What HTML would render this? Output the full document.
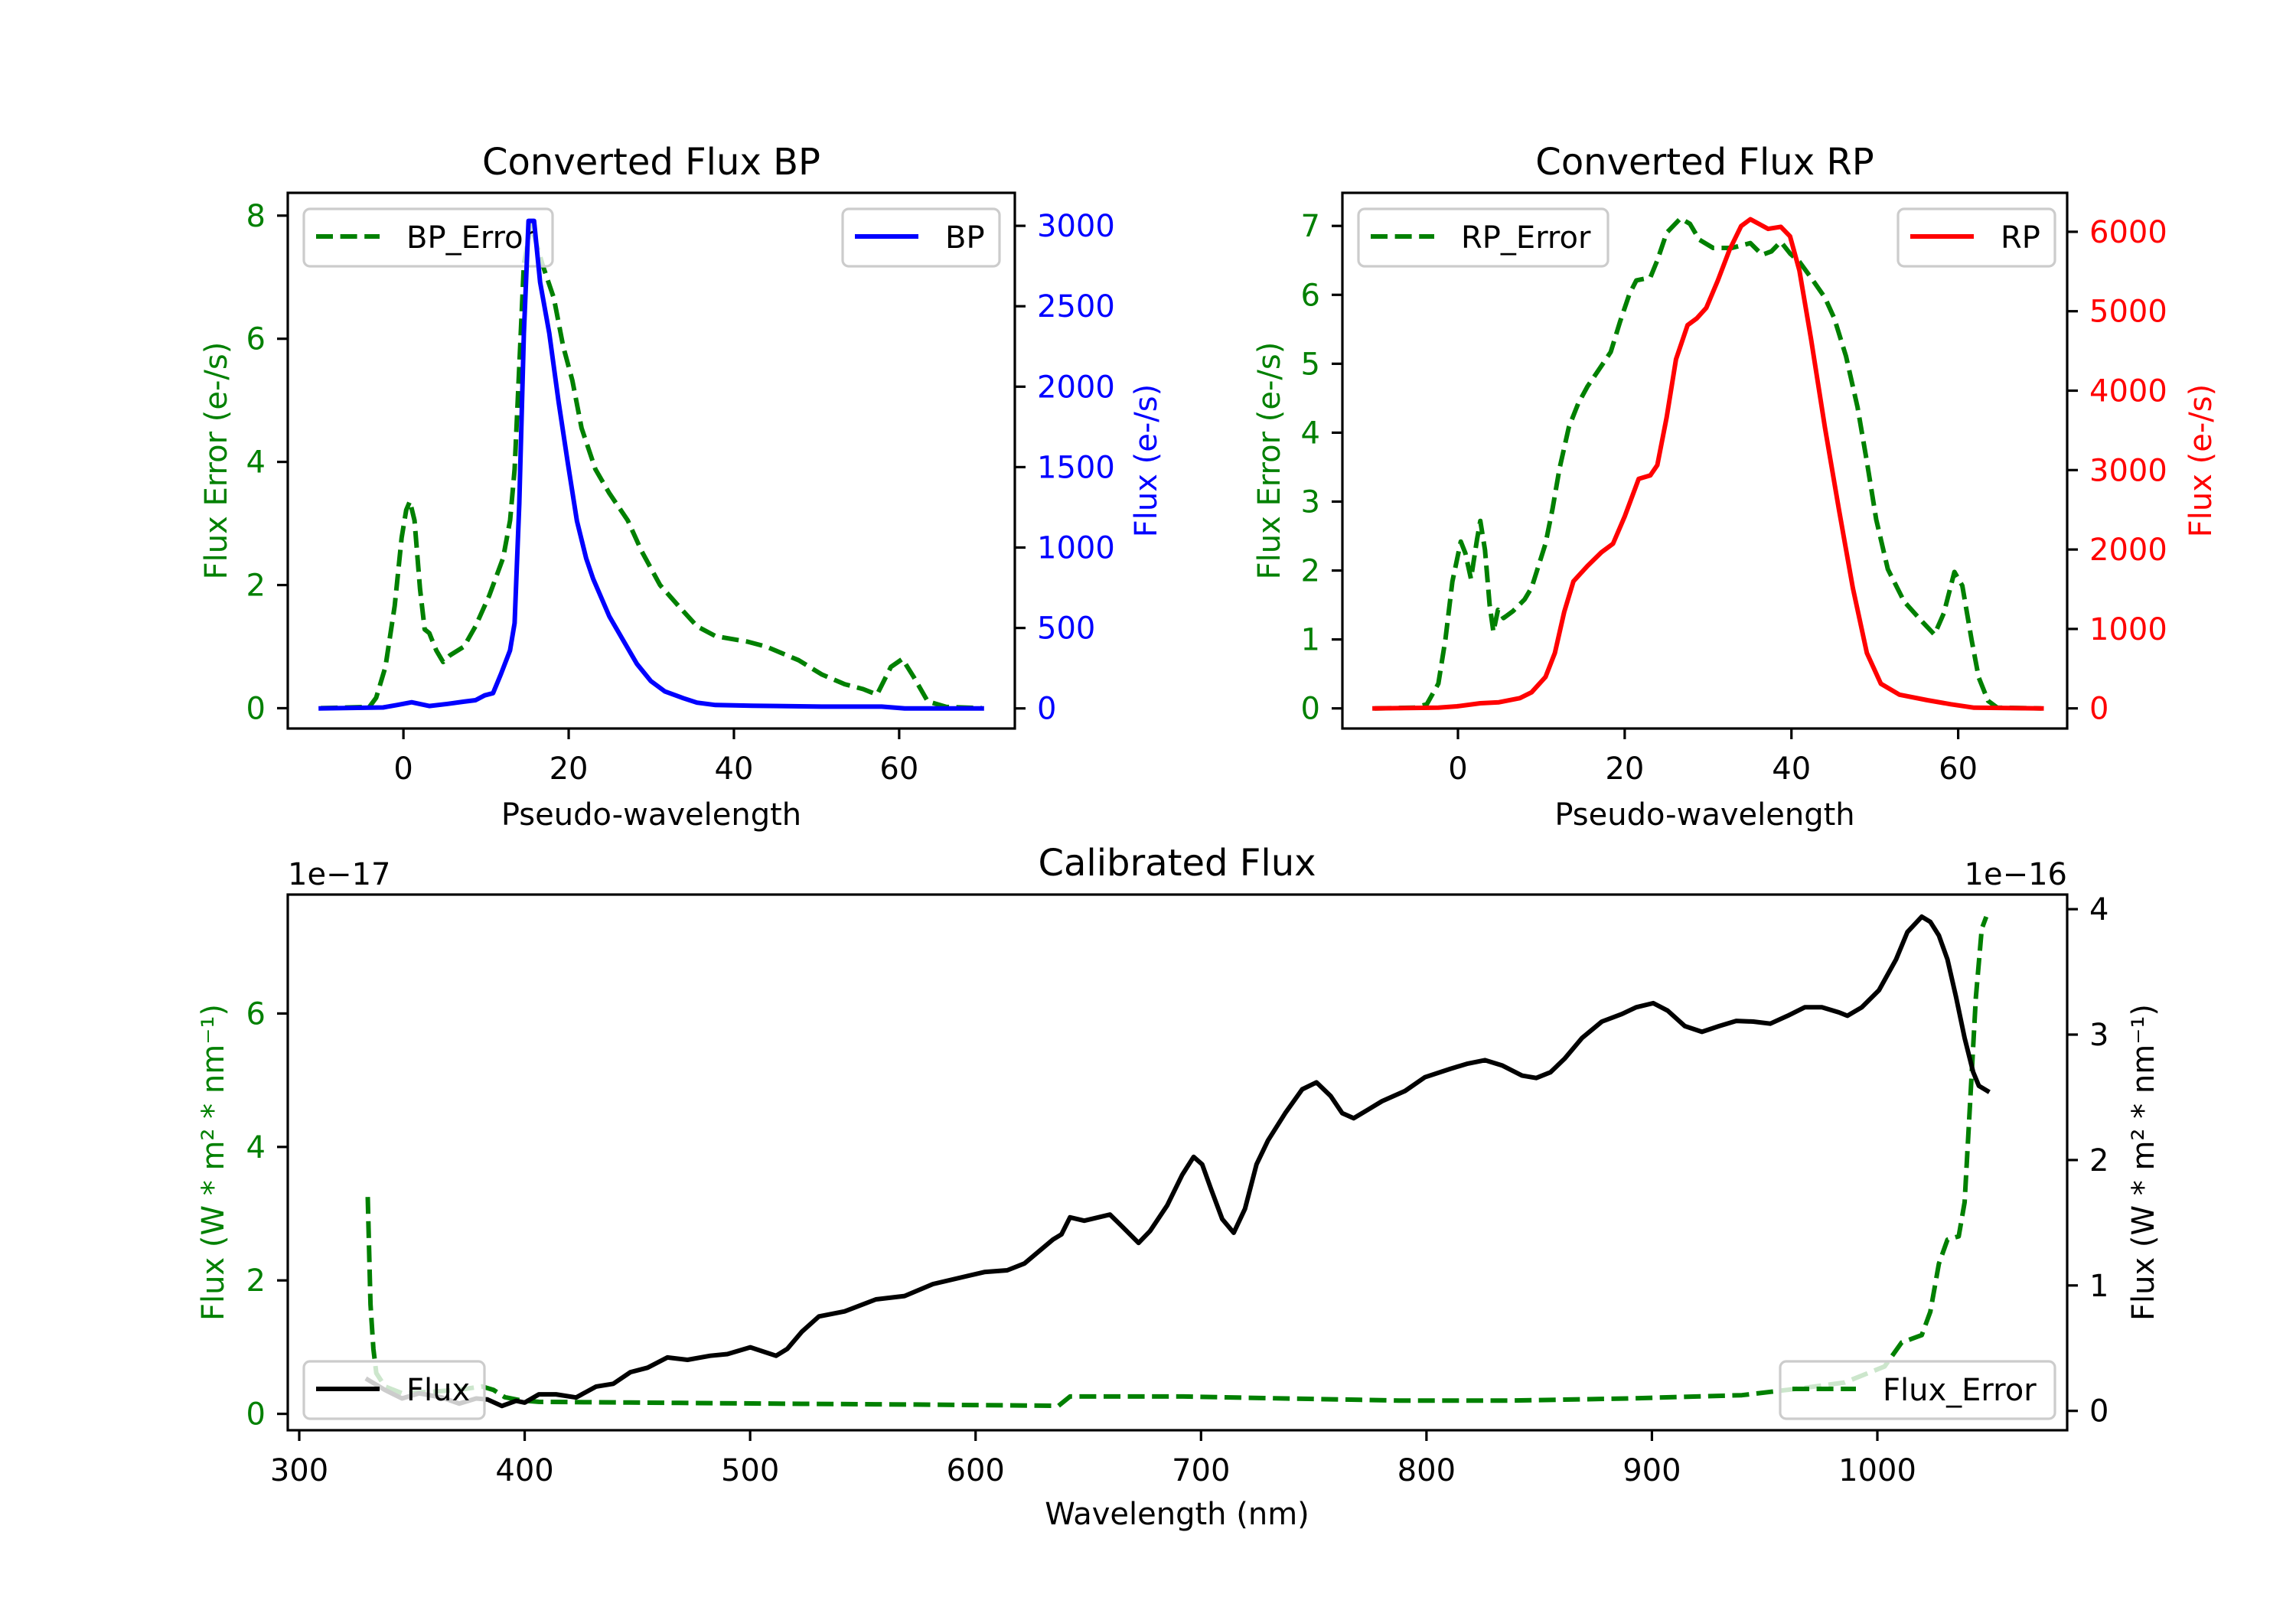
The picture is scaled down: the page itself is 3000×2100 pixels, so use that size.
<!DOCTYPE html>
<html><head><meta charset="utf-8"><style>
html,body{margin:0;padding:0;background:#fff}
svg{display:block}
text{font-family:"DejaVu Sans","Liberation Sans",sans-serif}
</style></head><body>
<svg id="fig" xmlns="http://www.w3.org/2000/svg" width="3000" height="2100" viewBox="0 0 3000 2100">
<rect x="0" y="0" width="3000" height="2100" fill="#fff"/>
</svg>
<script>
// ---- BP data ----
const bpX = [-10,-2.46,-0.78,1.0,3.13,5.36,7.32,8.72,9.83,10.84,11.79,12.9,13.46,14.02,14.58,15.14,15.81,16.54,17.65,18.77,19.89,21.0,22.12,22.96,24.92,26.59,28.27,29.94,31.62,33.85,35.53,37.77,42.23,50.6,57.88,60.67,70];
const bpFlux = [0,6,21,38,15,28,42,51,81,95,212,360,530,1272,2332,3031,3031,2650,2332,1908,1526,1166,933,806,572,424,276,170,106,64,36,21,17,11,11,0,0];
const bpErrX = [-10,-4.13,-3.30,-2.18,-1.06,-0.22,0.34,0.78,1.34,2.01,2.57,3.13,3.97,4.80,5.64,7.32,8.72,10.39,12.07,12.91,13.46,14.02,14.58,15.42,16.82,18.21,19.33,20.45,21.56,23.24,24.92,27.15,28.83,31.06,33.30,35.53,37.77,41.68,43.91,47.82,50.61,53.41,55.64,57.32,59.0,60.39,61.79,63.46,65.70,70];
const bpErr = [0,0.02,0.17,0.67,1.66,2.77,3.22,3.36,3.05,1.94,1.28,1.22,0.94,0.75,0.86,1.00,1.33,1.83,2.44,3.05,3.88,5.55,7.21,7.85,7.21,6.66,5.88,5.32,4.55,3.88,3.49,3.05,2.55,2.00,1.66,1.33,1.17,1.08,1.0,0.78,0.55,0.39,0.31,0.22,0.67,0.80,0.50,0.11,0.02,0];
// ---- RP data ----
const rpX = [-10,-2.35,-0.11,2.68,4.92,7.43,8.83,10.50,11.62,12.74,13.85,15.53,17.21,18.60,20.0,21.68,23.07,23.91,25.03,26.15,27.54,28.66,29.78,31.17,32.57,33.97,35.08,36.20,37.21,38.72,39.83,40.95,42.35,44.02,45.70,47.37,49.05,50.73,52.96,56.31,59.11,61.90,70];
const rpFlux = [0,9,26,65,77,129,202,396,697,1213,1600,1793,1965,2073,2417,2890,2933,3063,3665,4395,4825,4911,5041,5385,5772,6072,6158,6094,6037,6063,5943,5514,4653,3536,2503,1514,697,310,172,103,52,9,0];
const rpErrX = [-10,-5.14,-3.74,-2.35,-1.51,-0.67,0.34,0.89,1.56,2.29,2.68,3.24,3.80,4.25,4.80,5.47,6.59,7.99,8.83,10.50,11.34,12.18,13.30,14.41,15.53,17.21,18.32,19.44,20.56,21.40,23.07,23.91,25.03,26.70,27.82,28.94,30.61,32.85,35.08,36.48,37.60,38.72,39.83,40.95,42.35,44.02,45.14,46.54,47.93,49.05,50.17,51.56,53.52,55.75,57.15,58.27,59.55,60.50,61.62,62.46,63.58,64.69,70];
const rpErr = [0,0.01,0.06,0.36,1.00,1.84,2.42,2.25,1.88,2.45,2.72,2.30,1.50,1.11,1.43,1.31,1.41,1.58,1.75,2.39,2.89,3.48,4.08,4.42,4.67,4.97,5.17,5.61,6.01,6.21,6.25,6.50,6.90,7.11,7.03,6.80,6.68,6.68,6.75,6.58,6.63,6.77,6.60,6.48,6.25,5.96,5.66,5.11,4.37,3.58,2.74,2.02,1.55,1.25,1.07,1.38,1.98,1.78,0.99,0.45,0.11,0.01,0];
// ---- Calibrated data ----
const calWl = [330.4,338.0,345.6,353.2,363.3,370.9,378.5,383.5,389.9,396.2,400.0,406.3,413.9,422.8,431.7,439.3,446.9,454.5,463.3,472.2,482.3,489.9,500.1,511.5,516.5,522.9,530.5,541.9,555.8,568.5,581.1,603.9,614.0,621.7,634.3,638.1,641.9,648.2,659.6,664.7,672.3,677.4,685.0,691.7,696.7,700.5,704.3,709.4,714.5,719.5,724.6,729.7,737.3,744.9,751.2,757.5,762.6,767.7,774.0,780.3,790.5,799.3,810.7,818.3,825.9,833.5,842.4,848.7,855.0,861.4,869.0,877.8,886.7,893.0,900.6,907.0,914.6,922.2,929.8,937.4,945.0,952.5,960.2,967.8,975.4,983.0,986.7,993.1,1000.7,1008.3,1013.3,1019.7,1023.5,1027.3,1031.1,1034.9,1038.7,1042.5,1045.0,1048.8];
const calFlux = [0.249,0.167,0.099,0.140,0.107,0.058,0.099,0.091,0.039,0.080,0.066,0.132,0.132,0.107,0.194,0.216,0.309,0.344,0.426,0.407,0.439,0.453,0.507,0.439,0.494,0.630,0.753,0.793,0.889,0.916,1.011,1.107,1.121,1.175,1.366,1.407,1.543,1.516,1.565,1.475,1.339,1.434,1.638,1.883,2.025,1.965,1.774,1.529,1.420,1.611,1.965,2.156,2.373,2.564,2.619,2.510,2.374,2.333,2.401,2.469,2.551,2.660,2.728,2.769,2.796,2.755,2.673,2.654,2.700,2.810,2.973,3.104,3.164,3.218,3.251,3.191,3.068,3.022,3.068,3.109,3.104,3.087,3.150,3.218,3.218,3.177,3.150,3.218,3.354,3.599,3.817,3.940,3.899,3.790,3.599,3.300,2.973,2.701,2.592,2.551];
const errWl = [330.4,331.6,332.9,334.2,338.0,345.6,358.2,370.9,381.0,386.1,391.2,398.7,406.3,446.9,522.9,573.5,636.8,641.9,692.1,737.3,787.9,838.6,889.2,939.9,965.2,985.5,1003.2,1010.8,1019.7,1023.5,1027.3,1031.1,1036.1,1038.7,1041.2,1043.7,1046.3,1048.3];
const errVal = [3.25,1.64,0.97,0.61,0.41,0.31,0.33,0.36,0.41,0.36,0.25,0.20,0.18,0.17,0.15,0.14,0.12,0.26,0.26,0.23,0.20,0.20,0.23,0.28,0.38,0.47,0.71,1.07,1.18,1.53,2.25,2.61,2.66,3.17,4.71,6.24,7.27,7.45];
// ---- ticks ----
const pseudoTicks = [0,20,40,60];
const bpErrTicks = [0,2,4,6,8];
const bpFluxTicks = [0,500,1000,1500,2000,2500,3000];
const rpErrTicks = [0,1,2,3,4,5,6,7];
const rpFluxTicks = [0,1000,2000,3000,4000,5000,6000];
const wlTicks = [300,400,500,600,700,800,900,1000];
const calErrTicks = [0,2,4,6];
const calFluxTicks = [0,1,2,3,4];

const NS="http://www.w3.org/2000/svg";
const fig=document.getElementById('fig');
function el(tag,attrs,parent,txt){const e=document.createElementNS(NS,tag);for(const k in attrs)e.setAttribute(k,attrs[k]);if(txt!==undefined)e.textContent=txt;(parent||fig).appendChild(e);return e;}
function lin(d0,d1,p0,p1){return v=>p0+(v-d0)*(p1-p0)/(d1-d0);}
const FS=40, TFS=48, TL=14, LW=6, SW=3.2, DASH='22,9.6';

function line(g,xs,ys,sx,sy,color,dashed,name){
  const d=xs.map((x,i)=>(i?'L':'M')+sx(x).toFixed(1)+','+sy(ys[i]).toFixed(1)).join('');
  const p=el('path',{d:d,fill:'none',stroke:color,'stroke-width':LW,'stroke-linejoin':'round','stroke-linecap':dashed?'butt':'square'},g);
  if(dashed)p.setAttribute('stroke-dasharray',DASH);
  
  
}
function legend(g,x,y,w,label,color,dashed,name){
  const lg=el('g',{},g);
  
  
  el('rect',{x:x,y:y,width:w,height:75,rx:8,fill:'#fff','fill-opacity':0.8,stroke:'#ccc','stroke-width':3.2},lg);
  const h=el('line',{x1:x+16,y1:y+36,x2:x+99,y2:y+36,stroke:color,'stroke-width':LW},lg);
  if(dashed)h.setAttribute('stroke-dasharray',DASH);
  el('text',{x:x+134,y:y+51,'font-size':FS,fill:'#000'},lg,label);
}
function frame(g,L,T,R,B){
  el('rect',{x:L,y:T,width:R-L,height:B-T,fill:'none',stroke:'#000','stroke-width':SW},g);
}
function xticks(g,ticks,sx,B,ly){
  ticks.forEach(t=>{const x=sx(t);
    el('line',{x1:x,y1:B,x2:x,y2:B+TL,stroke:'#000','stroke-width':SW},g);
    el('text',{x:x,y:ly,'font-size':FS,'text-anchor':'middle',fill:'#000'},g,String(t));});
}
function yticks(g,ticks,sy,X,side,color){
  ticks.forEach(t=>{const y=sy(t);
    if(side<0){el('line',{x1:X-TL,y1:y,x2:X,y2:y,stroke:'#000','stroke-width':SW},g);
      el('text',{x:X-29,y:y+14,'font-size':FS,'text-anchor':'end',fill:color},g,String(t));}
    else{el('line',{x1:X,y1:y,x2:X+TL,y2:y,stroke:'#000','stroke-width':SW},g);
      el('text',{x:X+29,y:y+14,'font-size':FS,'text-anchor':'start',fill:color},g,String(t));}});
}
function vlabel(g,x,y,txt,color,name){
  const t=el('text',{x:x,y:y,'font-size':FS,'text-anchor':'middle',fill:color,transform:`rotate(-90 ${x} ${y})`},g,txt);
  
  
  return t;
}

// ---------- BP panel ----------
(function(){
  const L=376,T=252,R=1326,B=952;
  const g=el('g',{});  
  const sx=lin(-14,74,L,R), sy1=lin(-0.33,8.37,B,T), sy2=lin(-125,3205,B,T);
  const cp=el('clipPath',{id:'cbp'},g); el('rect',{x:L,y:T,width:R-L,height:B-T},cp);
  const cl=el('g',{'clip-path':'url(#cbp)'},g);
  line(cl,bpErrX,bpErr,sx,sy1,'#008000',true,'bp-error-line');
  legend(g,397,273,325,'BP_Error','#008000',true,'bp-error-legend');
  const cl2=el('g',{'clip-path':'url(#cbp)'},g);
  line(cl2,bpX,bpFlux,sx,sy2,'#0000ff',false,'bp-flux-line');
  legend(g,1101,273,205,'BP','#0000ff',false,'bp-legend');
  frame(g,L,T,R,B);
  xticks(g,pseudoTicks,sx,B,1018);
  yticks(g,bpErrTicks,sy1,L,-1,'#008000');
  yticks(g,bpFluxTicks,sy2,R,1,'#0000ff');
  const t=el('text',{x:(L+R)/2,y:228,'font-size':TFS,'text-anchor':'middle',fill:'#000'},g,'Converted Flux BP');
   
  const xl=el('text',{x:(L+R)/2,y:1078,'font-size':FS,'text-anchor':'middle',fill:'#000'},g,'Pseudo-wavelength');
   
  vlabel(g,296,(T+B)/2,'Flux Error (e-/s)','#008000','bp-left-y-axis-title');
  vlabel(g,1511,(T+B)/2,'Flux (e-/s)','#0000ff','bp-right-y-axis-title');
})();

// ---------- RP panel ----------
(function(){
  const L=1754,T=252,R=2701,B=952;
  const g=el('g',{});  
  const sx=lin(0,60,1905,2558.6);
  const sy1=v=>925.7-v*90.07, sy2=v=>925.7-v*0.1038;
  const cp=el('clipPath',{id:'crp'},g); el('rect',{x:L,y:T,width:R-L,height:B-T},cp);
  const cl=el('g',{'clip-path':'url(#crp)'},g);
  line(cl,rpErrX,rpErr,sx,sy1,'#008000',true,'rp-error-line');
  legend(g,1775,273,326,'RP_Error','#008000',true,'rp-error-legend');
  const cl2=el('g',{'clip-path':'url(#crp)'},g);
  line(cl2,rpX,rpFlux,sx,sy2,'#ff0000',false,'rp-flux-line');
  legend(g,2480,273,205,'RP','#ff0000',false,'rp-legend');
  frame(g,L,T,R,B);
  xticks(g,pseudoTicks,sx,B,1018);
  yticks(g,rpErrTicks,sy1,L,-1,'#008000');
  yticks(g,rpFluxTicks,sy2,R,1,'#ff0000');
  const t=el('text',{x:(L+R)/2,y:228,'font-size':TFS,'text-anchor':'middle',fill:'#000'},g,'Converted Flux RP');
   
  const xl=el('text',{x:(L+R)/2,y:1078,'font-size':FS,'text-anchor':'middle',fill:'#000'},g,'Pseudo-wavelength');
   
  vlabel(g,1672,(T+B)/2,'Flux Error (e-/s)','#008000','rp-left-y-axis-title');
  vlabel(g,2889,(T+B)/2,'Flux (e-/s)','#ff0000','rp-right-y-axis-title');
})();

// ---------- Calibrated panel ----------
(function(){
  const L=376,T=1169,R=2701,B=1869;
  const g=el('g',{});  
  const sx=lin(300,1000,391,2453);
  const sy1=v=>1847.6-v*87.2, sy2=v=>1843.7-v*163.9;
  const cp=el('clipPath',{id:'ccal'},g); el('rect',{x:L,y:T,width:R-L,height:B-T},cp);
  const cl=el('g',{'clip-path':'url(#ccal)'},g);
  line(cl,errWl,errVal,sx,sy1,'#008000',true,'flux-error-line');
  line(cl,calWl,calFlux,sx,sy2,'#000000',false,'calibrated-flux-line');
  legend(g,397,1779,236,'Flux','#000000',false,'flux-legend');
  legend(g,2326,1779,359,'Flux_Error','#008000',true,'flux-error-legend');
  frame(g,L,T,R,B);
  xticks(g,wlTicks,sx,B,1935);
  yticks(g,calErrTicks,sy1,L,-1,'#008000');
  yticks(g,calFluxTicks,sy2,R,1,'#000000');
  const t=el('text',{x:1538,y:1144,'font-size':TFS,'text-anchor':'middle',fill:'#000'},g,'Calibrated Flux');
   
  const o1=el('text',{x:L,y:1156,'font-size':FS,'text-anchor':'start',fill:'#000'},g,'1e\u221217');
   
  const o2=el('text',{x:R,y:1156,'font-size':FS,'text-anchor':'end',fill:'#000'},g,'1e\u221216');
   
  const xl=el('text',{x:1538,y:1992,'font-size':FS,'text-anchor':'middle',fill:'#000'},g,'Wavelength (nm)');
   
  vlabel(g,292,(T+B)/2,'Flux (W * m\u00b2 * nm\u207b\u00b9)','#008000','calibrated-left-y-axis-title');
  vlabel(g,2814,(T+B)/2,'Flux (W * m\u00b2 * nm\u207b\u00b9)','#000000','calibrated-right-y-axis-title');
})();
</script>
</body></html>
